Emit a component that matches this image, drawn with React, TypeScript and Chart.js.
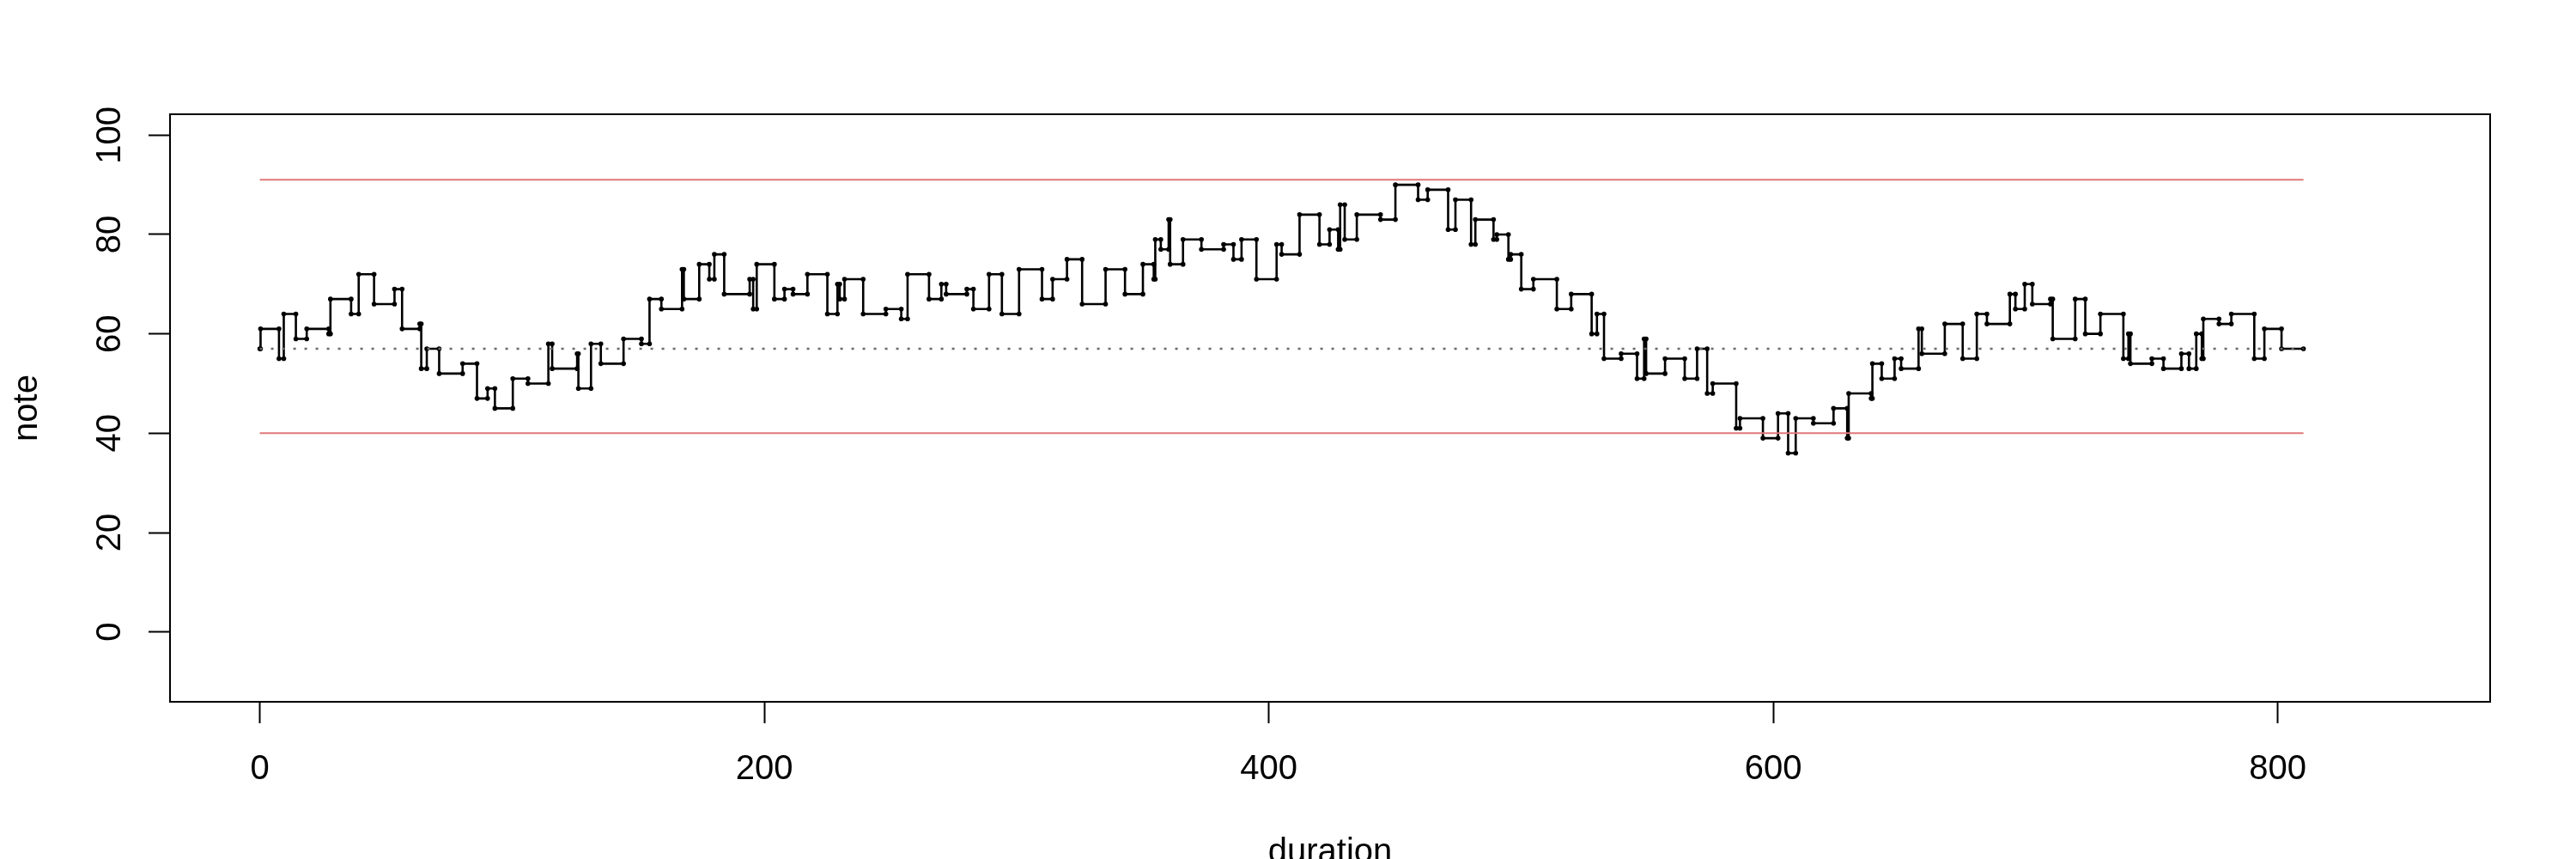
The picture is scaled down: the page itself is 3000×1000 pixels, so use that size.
import React, { useEffect, useRef } from "react";
import { Chart, registerables } from "chart.js";

Chart.register(...registerables);

// pitch of each note
const notes = [
  57, 61, 55, 64, 59, 61, 60, 67, 64, 72,
  66, 69, 61, 62, 53, 57, 52, 54, 47, 49,
  45, 51, 50, 58, 53, 56, 49, 58, 54, 59,
  58, 67, 65, 73, 67, 74, 71, 76, 68, 71,
  65, 74, 67, 69, 68, 72, 64, 70, 67, 71,
  64, 65, 63, 72, 67, 70, 68, 69, 65, 72,
  64, 73, 67, 71, 75, 66, 73, 68, 74, 71,
  79, 77, 83, 74, 79, 77, 78, 75, 79, 71,
  78, 76, 84, 78, 81, 77, 86, 79, 84, 83,
  90, 87, 89, 81, 87, 78, 83, 79, 80, 75,
  76, 69, 71, 65, 68, 60, 64, 55, 56, 51,
  59, 52, 55, 51, 57, 48, 50, 41, 43, 39,
  44, 36, 43, 42, 45, 39, 48, 47, 54, 51,
  55, 53, 61, 56, 62, 55, 64, 62, 68, 65,
  70, 66, 67, 59, 67, 60, 64, 55, 60, 54,
  55, 53, 56, 53, 60, 55, 63, 62, 64, 55,
  61, 57,
];

// cumulative duration at which each note starts
const onsets = [
  0, 0.3, 7.6, 9.5, 14.3, 18.6, 27.3, 28, 36.2, 39.2,
  45.3, 53.4, 56.4, 63.4, 64, 66.2, 71.1, 80.4, 86.1, 90.3,
  93.2, 100.3, 106.3, 114.4, 115.9, 125.8, 126.3, 131.3, 135.2, 144.2,
  151.3, 154.5, 159.2, 167.4, 168.1, 174.2, 178.2, 180.2, 184.1, 194.2,
  195.6, 197, 204, 208, 211.4, 217.1, 225, 229, 229.9, 231.8,
  239.2, 248.2, 254.3, 256.8, 265.3, 270.2, 272.1, 280.3, 282.9, 289.1,
  294.2, 301, 310.1, 314.3, 320, 326, 335.3, 343, 350.1, 354.4,
  355, 357.2, 360.3, 360.9, 366, 373.3, 382.1, 386, 389.2, 395.1,
  403.1, 405.1, 412.2, 420.1, 424.1, 427.5, 428.3, 430.1, 434.9, 444.3,
  450.2, 459.2, 463, 471.1, 474, 480.2, 481.9, 489.1, 490.4, 495,
  495.9, 500.1, 504.9, 514.2, 519.9, 528, 530.1, 532.9, 539.7, 546,
  548.8, 549.6, 557.1, 564.9, 569.8, 573.8, 576, 585.3, 586.8, 595.9,
  601.9, 605.9, 608.9, 615.9, 623.9, 629.3, 629.9, 638.8, 639.3, 643,
  648.1, 650.7, 657.6, 658.9, 668, 675.1, 680.7, 684.7, 693.8, 696,
  699.7, 702.7, 709.9, 710.8, 719.7, 723.7, 729.7, 738.8, 740.8, 741.6,
  750.1, 754.7, 761.8, 764.8, 767.7, 769.9, 770.5, 776.7, 781.6, 790.7,
  794.7, 801.5,
];
const endTime = 810.2;

const lowerBound = 40;
const upperBound = 91;
const referenceNote = 57;

const xTicks = [0, 200, 400, 600, 800];
const yTicks = [0, 20, 40, 60, 80, 100];
const xMin = -35.6;
const xMax = 884.2;
const yMin = -14.06;
const yMax = 104.2;
const xLabel = "duration";
const yLabel = "note";

const FONT = '40px "Liberation Sans", Arial, Helvetica, sans-serif';

export default function App() {
  const ref = useRef<HTMLCanvasElement | null>(null);

  useEffect(() => {
    document.body.style.margin = "0";
    const canvas = ref.current;
    if (!canvas) return;

    const stepPts: { x: number; y: number }[] = [];
    const n = Math.min(notes.length, onsets.length);
    for (let i = 0; i < n; i++) {
      const s = onsets[i];
      const e = i + 1 < n ? onsets[i + 1] : endTime;
      stepPts.push({ x: s, y: notes[i] });
      stepPts.push({ x: e, y: notes[i] });
    }

    const hline = (v: number) => [
      { x: 0, y: v },
      { x: endTime, y: v },
    ];

    const labelPlugin = {
      id: "rLabels",
      afterDraw(chart: any) {
        const ctx = chart.ctx;
        const area = chart.chartArea;
        const xs = chart.scales.x;
        const ys = chart.scales.y;
        ctx.save();
        ctx.strokeStyle = "#000";
        ctx.lineWidth = 2;
        ctx.strokeRect(area.left, area.top, area.right - area.left, area.bottom - area.top);
        ctx.fillStyle = "#000";
        ctx.font = FONT;
        ctx.textAlign = "center";
        ctx.textBaseline = "alphabetic";
        xTicks.forEach((v) => ctx.fillText(String(v), xs.getPixelForValue(v), 907));
        yTicks.forEach((v) => {
          ctx.save();
          ctx.translate(140, ys.getPixelForValue(v));
          ctx.rotate(-Math.PI / 2);
          ctx.fillText(String(v), 0, 0);
          ctx.restore();
        });
        ctx.fillText(xLabel, (area.left + area.right) / 2, 1004);
        ctx.save();
        ctx.translate(43, (area.top + area.bottom) / 2);
        ctx.rotate(-Math.PI / 2);
        ctx.fillText(yLabel, 0, 0);
        ctx.restore();
        ctx.restore();
      },
    };

    const chart = new Chart(canvas, {
      type: "scatter",
      data: {
        datasets: [
          {
            data: hline(upperBound),
            showLine: true,
            borderColor: "rgb(222,120,120)",
            borderWidth: 2,
            pointRadius: 0,
            order: 1,
          },
          {
            data: hline(lowerBound),
            showLine: true,
            borderColor: "rgb(222,120,120)",
            borderWidth: 2,
            pointRadius: 0,
            order: 1,
          },
          {
            data: hline(referenceNote),
            showLine: true,
            borderColor: "#6a6a6a",
            borderWidth: 2.5,
            borderDash: [3, 10],
            pointRadius: 0,
            order: 1,
          },
          {
            data: stepPts,
            showLine: true,
            borderColor: "#000",
            borderWidth: 2.6,
            pointRadius: 2.8,
            pointBackgroundColor: "#000",
            pointBorderWidth: 0,
            order: 2,
          },
        ],
      } as any,
      options: {
        animation: false,
        responsive: false,
        maintainAspectRatio: false,
        devicePixelRatio: 1,
        events: [],
        layout: { padding: { top: 133, right: 100, left: 0, bottom: 0 } },
        plugins: {
          legend: { display: false },
          tooltip: { enabled: false },
          title: { display: false },
        },
        scales: {
          x: {
            type: "linear",
            min: xMin,
            max: xMax,
            border: { display: false },
            grid: {
              display: true,
              drawOnChartArea: false,
              drawTicks: true,
              tickLength: 25,
              tickWidth: 2,
              tickColor: "#000",
            },
            ticks: { display: false },
            afterBuildTicks: (s: any) => {
              s.ticks = xTicks.map((v) => ({ value: v }));
            },
            afterFit: (s: any) => {
              s.height = 183;
            },
          },
          y: {
            type: "linear",
            min: yMin,
            max: yMax,
            border: { display: false },
            grid: {
              display: true,
              drawOnChartArea: false,
              drawTicks: true,
              tickLength: 25,
              tickWidth: 2,
              tickColor: "#000",
            },
            ticks: { display: false },
            afterBuildTicks: (s: any) => {
              s.ticks = yTicks.map((v) => ({ value: v }));
            },
            afterFit: (s: any) => {
              s.width = 198;
            },
          },
        },
      } as any,
      plugins: [labelPlugin],
    });

    return () => chart.destroy();
  }, []);

  return (
    <canvas
      ref={ref}
      width={3000}
      height={1000}
      style={{ display: "block", width: "3000px", height: "1000px" }}
    />
  );
}
